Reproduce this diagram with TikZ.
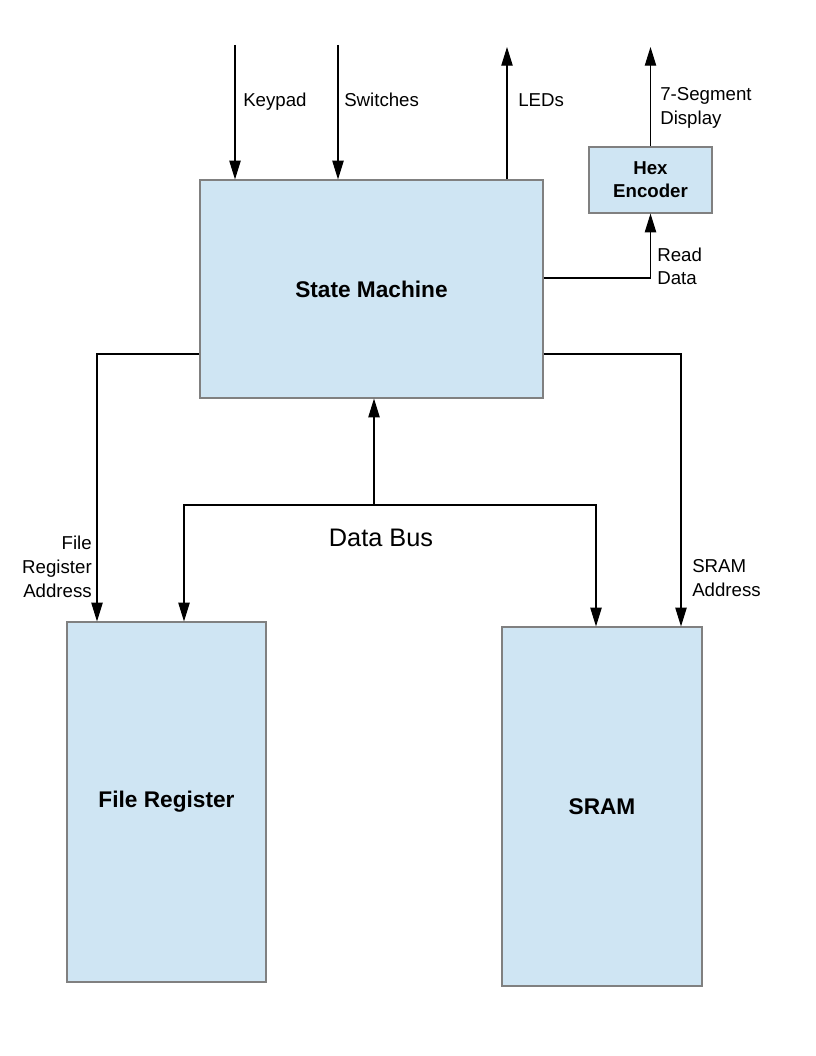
\documentclass[tikz,border=0pt]{standalone}
\usepackage{fontspec}
\setmainfont{Liberation Sans}
\usetikzlibrary{arrows.meta}
\definecolor{boxblue}{HTML}{CFE5F3}
\definecolor{boxgray}{HTML}{808080}
\begin{document}
\begin{tikzpicture}[x=0.75pt,y=-0.75pt,
  blk/.style={draw=boxgray, fill=boxblue, line width=0.9pt, inner sep=0pt, align=center,
              font=\fontsize{17}{20}\selectfont\bfseries},
  conn/.style={line width=0.8pt, -{Triangle[length=14pt,width=8.5pt]}},
  lbl/.style={font=\fontsize{14}{17.6}\selectfont, inner sep=0pt},
]
\useasboundingbox[fill=white] (0,0) rectangle (816,1056);

% blocks
\node[blk, minimum width=257.25pt, minimum height=163.5pt] (sm) at (371.5,289) {State Machine};
\node[blk, minimum width=92.25pt, minimum height=49.5pt,
      font=\fontsize{14}{17.4}\selectfont\bfseries] (hex) at (650.5,180) {Hex\\Encoder};
\node[blk, minimum width=149.25pt, minimum height=270pt] (fr) at (166.5,802) {File Register};
\node[blk, minimum width=150pt, minimum height=269.25pt] (sram) at (602,806.5) {SRAM};

% free ends and bends
\coordinate (kpin) at (235,45);
\coordinate (swin) at (338,45);
\coordinate (ledout) at (507,47);
\coordinate (segout) at (650.5,47);
\coordinate (rd) at (543,278);
\coordinate (fra) at (97,354);
\coordinate (sra) at (681,354);
\coordinate (bus) at (374,505);
\coordinate (busl) at (184,505);
\coordinate (busr) at (596,505);

% connectors
\draw[conn] (kpin) -- (kpin |- sm.north);
\draw[conn] (swin) -- (swin |- sm.north);
\draw[conn] (ledout |- sm.north) -- (ledout);
\draw[conn] (hex.north) -- (hex.north |- segout);
\draw[conn] (sm.east |- rd) -| (hex.south);
\draw[conn] (sm.west |- fra) -| (fra |- fr.north);
\draw[conn] (sm.east |- sra) -| (sra |- sram.north);
\draw[conn] (bus) -- (bus |- sm.south);
\draw[conn] (bus) -| (busl |- fr.north);
\draw[conn] (bus) -| (busr |- sram.north);

% labels
\node[lbl, anchor=base west] (kpl) at (243,106) {Keypad};
\node[lbl, anchor=base west] (swl) at (344,106) {Switches};
\node[lbl, anchor=base west] (ledl) at (518,106) {LEDs};
\node[lbl, anchor=north west, align=left] (segl) at (660,87.5) {7-Segment\\Display};
\node[lbl, anchor=north west, align=left] (rdl) at (657,247.5) {Read\\Data};
\node[lbl, anchor=north east, align=right, font=\fontsize{14}{18}\selectfont] (fral) at (92,535.3) {File\\Register\\Address};
\node[lbl, anchor=north west, align=left, font=\fontsize{14}{18}\selectfont] (sral) at (692,559.3) {SRAM\\Address};
\node[lbl, font=\fontsize{19}{22}\selectfont] (busll) at (381,538) {Data Bus};
\end{tikzpicture}
\end{document}
